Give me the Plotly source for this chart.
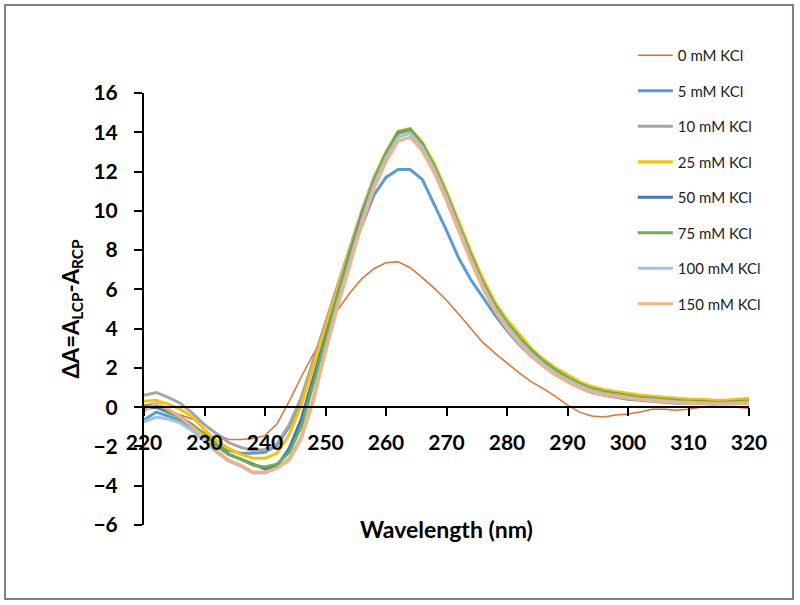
import plotly.graph_objects as go

# wavelength grid (nm)
wavelength = list(range(220, 322, 2))

kcl_0 = [0.1, 0.2, -0.15, -0.4, -0.6, -0.85, -1.35, -1.65, -1.65, -1.6,
         -1.45, -0.85, 0.3, 1.55, 2.7, 3.9, 4.95, 5.8, 6.55, 7.05,
         7.35, 7.4, 7.1, 6.6, 6.05, 5.45, 4.75, 4.05, 3.3, 2.75,
         2.25, 1.75, 1.3, 0.95, 0.55, 0.1, -0.25, -0.45, -0.5, -0.4,
         -0.35, -0.25, -0.1, -0.1, -0.15, -0.1, 0.0, 0.0, 0.05, 0.0,
         -0.05]
kcl_5 = [-0.65, -0.25, -0.45, -0.7, -1.05, -1.5, -1.95, -2.2, -2.35, -2.35,
         -2.3, -1.95, -1.0, 0.4, 2.3, 4.2, 6.0, 7.7, 9.2, 10.8,
         11.7, 12.1, 12.1, 11.6, 10.3, 9.0, 7.6, 6.5, 5.6, 4.7,
         3.9, 3.2, 2.6, 2.1, 1.65, 1.3, 1.0, 0.75, 0.6, 0.5,
         0.4, 0.35, 0.3, 0.25, 0.2, 0.2, 0.2, 0.15, 0.2, 0.2,
         0.2]
kcl_10 = [0.6, 0.75, 0.5, 0.2, -0.3, -0.9, -1.35, -1.8, -2.05, -2.2,
          -2.15, -1.85, -0.9, 0.5, 2.4, 4.3, 6.2, 8.1, 10.0, 11.7,
          13.0, 13.95, 14.1, 13.4, 12.3, 10.9, 9.3, 7.8, 6.4, 5.25,
          4.35, 3.6, 2.95, 2.4, 1.95, 1.6, 1.25, 1.0, 0.85, 0.75,
          0.65, 0.6, 0.55, 0.5, 0.45, 0.4, 0.35, 0.35, 0.3, 0.35,
          0.4]
kcl_25 = [0.3, 0.35, 0.15, -0.1, -0.5, -1.15, -1.7, -2.1, -2.4, -2.6,
          -2.6, -2.35, -1.4, 0.1, 2.1, 4.0, 6.0, 8.0, 9.9, 11.6,
          13.0, 14.05, 14.2, 13.5, 12.4, 11.0, 9.45, 7.95, 6.55, 5.35,
          4.45, 3.7, 3.0, 2.45, 2.0, 1.65, 1.3, 1.05, 0.9, 0.8,
          0.7, 0.62, 0.55, 0.5, 0.45, 0.4, 0.4, 0.35, 0.35, 0.4,
          0.45]
kcl_50 = [-0.05, 0.0, -0.25, -0.5, -0.9, -1.4, -1.95, -2.4, -2.65, -2.9,
          -3.15, -3.0, -2.1, -0.6, 1.5, 3.7, 5.8, 7.8, 9.8, 11.5,
          12.9, 14.0, 14.15, 13.4, 12.2, 10.8, 9.2, 7.7, 6.3, 5.15,
          4.25, 3.5, 2.85, 2.3, 1.85, 1.5, 1.15, 0.9, 0.75, 0.65,
          0.55, 0.45, 0.4, 0.35, 0.3, 0.25, 0.25, 0.2, 0.2, 0.25,
          0.3]
kcl_75 = [0.05, 0.15, -0.2, -0.55, -0.95, -1.35, -1.9, -2.4, -2.65, -2.95,
          -3.05, -2.9, -2.3, -1.0, 1.2, 3.5, 5.7, 7.7, 9.7, 11.5,
          12.9, 13.95, 14.15, 13.4, 12.25, 10.85, 9.25, 7.75, 6.35, 5.2,
          4.3, 3.55, 2.9, 2.35, 1.9, 1.5, 1.2, 0.95, 0.8, 0.7,
          0.6, 0.5, 0.45, 0.4, 0.35, 0.3, 0.3, 0.25, 0.25, 0.3,
          0.3]
kcl_100 = [-0.75, -0.5, -0.6, -0.8, -1.2, -1.75, -2.3, -2.75, -3.0, -3.35,
           -3.35, -3.1, -2.6, -1.5, 0.5, 3.0, 5.3, 7.4, 9.5, 11.3,
           12.7, 13.75, 13.95, 13.25, 12.1, 10.7, 9.1, 7.6, 6.2, 5.05,
           4.15, 3.4, 2.75, 2.2, 1.75, 1.4, 1.1, 0.85, 0.7, 0.6,
           0.5, 0.42, 0.38, 0.32, 0.28, 0.25, 0.22, 0.2, 0.2, 0.22,
           0.25]
kcl_150 = [-0.2, 0.2, -0.1, -0.5, -1.0, -1.5, -2.2, -2.7, -2.95, -3.3,
           -3.3, -3.1, -2.7, -1.6, 0.3, 2.8, 5.1, 7.2, 9.3, 11.1,
           12.5, 13.55, 13.75, 13.05, 11.9, 10.5, 8.95, 7.45, 6.05, 4.9,
           4.0, 3.25, 2.6, 2.1, 1.65, 1.3, 1.0, 0.75, 0.62, 0.52,
           0.45, 0.38, 0.32, 0.28, 0.22, 0.2, 0.18, 0.15, 0.15, 0.18,
           0.2]

series = [
    ("0 mM KCl", kcl_0, "#E0712F", 1.5),
    ("5 mM KCl", kcl_5, "#5B9BD5", 3),
    ("10 mM KCl", kcl_10, "#A5A5A5", 3),
    ("25 mM KCl", kcl_25, "#FFC000", 3),
    ("50 mM KCl", kcl_50, "#4472C4", 3),
    ("75 mM KCl", kcl_75, "#70AD47", 3),
    ("100 mM KCl", kcl_100, "#9DC3E6", 3),
    ("150 mM KCl", kcl_150, "#F4B183", 3),
]

fig = go.Figure()
for name, vals, color, width in series:
    fig.add_trace(go.Scatter(x=wavelength, y=vals, name=name, mode="lines",
                             legendgroup=name,
                             line=dict(color=color, width=width)))

font_family = "Lato, 'Open Sans', sans-serif"

fig.update_layout(
    width=800, height=605,
    margin=dict(l=144, r=51, t=93, b=80),
    paper_bgcolor="white", plot_bgcolor="white",
    font=dict(family=font_family, color="black"),
    legend=dict(x=0.808, xanchor="left", y=1.125, yanchor="top",
                font=dict(size=15, color="#222222"),
                tracegroupgap=13, itemwidth=35,
                bgcolor="rgba(0,0,0,0)"),
    xaxis=dict(range=[220, 320], dtick=10, tick0=220,
               anchor="free", position=6 / 22,
               showline=True, linecolor="black", linewidth=2,
               ticks="outside", ticklen=8, tickwidth=2, tickcolor="black",
               ticklabelstandoff=9,
               tickfont=dict(size=21, weight="bold"),
               showgrid=False, zeroline=False),
    yaxis=dict(range=[-6, 16], dtick=2,
               showline=True, linecolor="black", linewidth=2,
               ticks="outside", ticklen=8, tickwidth=2, tickcolor="black",
               ticklabelstandoff=12,
               tickfont=dict(size=21, weight="bold"),
               showgrid=False, zeroline=False,
               title=dict(text="ΔA=A<sub>LCP</sub>-A<sub>RCP</sub>",
                          font=dict(size=22, weight="bold"), standoff=8)),
    annotations=[dict(text="Wavelength (nm)", xref="paper", yref="paper",
                      x=0.5, y=-0.01, xanchor="center", yanchor="middle",
                      showarrow=False,
                      font=dict(size=23, weight="bold"))],
    shapes=[dict(type="rect", xref="paper", yref="paper",
                 x0=-0.2298, x1=1.0727, y0=-0.1713, y1=1.2037,
                 line=dict(color="#7f7f7f", width=2))],
)

# drop the page's default body margin so the figure sits at the window origin
fig.write_html("out.html",
               config={"displayModeBar": False},
               post_script="document.body.style.margin='0';"
                           "document.body.style.overflow='hidden';")
